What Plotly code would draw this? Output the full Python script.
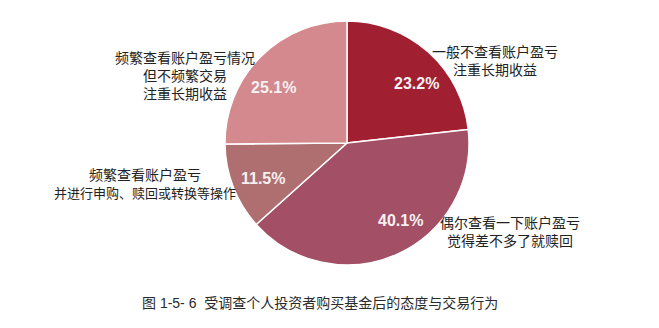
import plotly.graph_objects as go

# ---- data ----
categories = [
    "一般不查看账户盈亏\n注重长期收益",
    "偶尔查看一下账户盈亏\n觉得差不多了就赎回",
    "频繁查看账户盈亏\n并进行申购、赎回或转换等操作",
    "频繁查看账户盈亏情况\n但不频繁交易\n注重长期收益",
]
values = [23.2, 40.1, 11.5, 25.1]
title_text = "图 1-5- 6  受调查个人投资者购买基金后的态度与交易行为"

# ---- styling / layout (not data) ----
colors = ["#A01F31", "#A35066", "#AF6F70", "#D3898D"]
W, H = 659, 328
cx, cy, R = 347, 143, 122

# pixel positions (centers) of percent labels and category labels
pct_pos = [(416, 83), (400, 220), (263, 178), (273, 87)]
cat_pos = [(495, 60), (510, 231), (145, 183), (185, 75)]
long_line_size = 13  # the long second line of the 3rd label is set smaller

def px(x):
    return x / W

def py(y):
    return 1 - y / H

fig = go.Figure(
    go.Pie(
        values=values,
        labels=[c.replace("\n", "") for c in categories],
        sort=False,
        direction="clockwise",
        rotation=0,
        marker=dict(colors=colors, line=dict(color="white", width=1.5)),
        textinfo="none",
        hoverinfo="label+percent",
        domain=dict(x=[px(cx - R), px(cx + R)], y=[py(cy + R), py(cy - R)]),
        showlegend=False,
    )
)

annotations = []
for v, (x, y) in zip(values, pct_pos):
    annotations.append(
        dict(
            x=px(x), y=py(y), xref="paper", yref="paper",
            text=f"<b>{v:.1f}%</b>", showarrow=False,
            xanchor="center", yanchor="middle",
            font=dict(family="Liberation Sans, Arial", size=16, color="#F7F1F2"),
        )
    )

for i, (cat, (x, y)) in enumerate(zip(categories, cat_pos)):
    lines = cat.split("\n")
    if i == 2:
        lines[1] = f'<span style="font-size:{long_line_size}px">{lines[1]}</span>'
    annotations.append(
        dict(
            x=px(x), y=py(y), xref="paper", yref="paper",
            text="<br>".join(lines), showarrow=False,
            xanchor="center", yanchor="middle", align="center",
            font=dict(family="Noto Sans CJK SC", size=14, color="#222222"),
        )
    )

annotations.append(
    dict(
        x=px(320), y=py(303), xref="paper", yref="paper",
        text=title_text, showarrow=False,
        xanchor="center", yanchor="middle",
        font=dict(family="Liberation Sans, Noto Sans CJK SC", size=14, color="#2a2a2a"),
    )
)

fig.update_layout(
    width=W, height=H,
    margin=dict(l=0, r=0, t=0, b=0),
    paper_bgcolor="white",
    plot_bgcolor="white",
    annotations=annotations,
)

fig.write_html("out.html")
